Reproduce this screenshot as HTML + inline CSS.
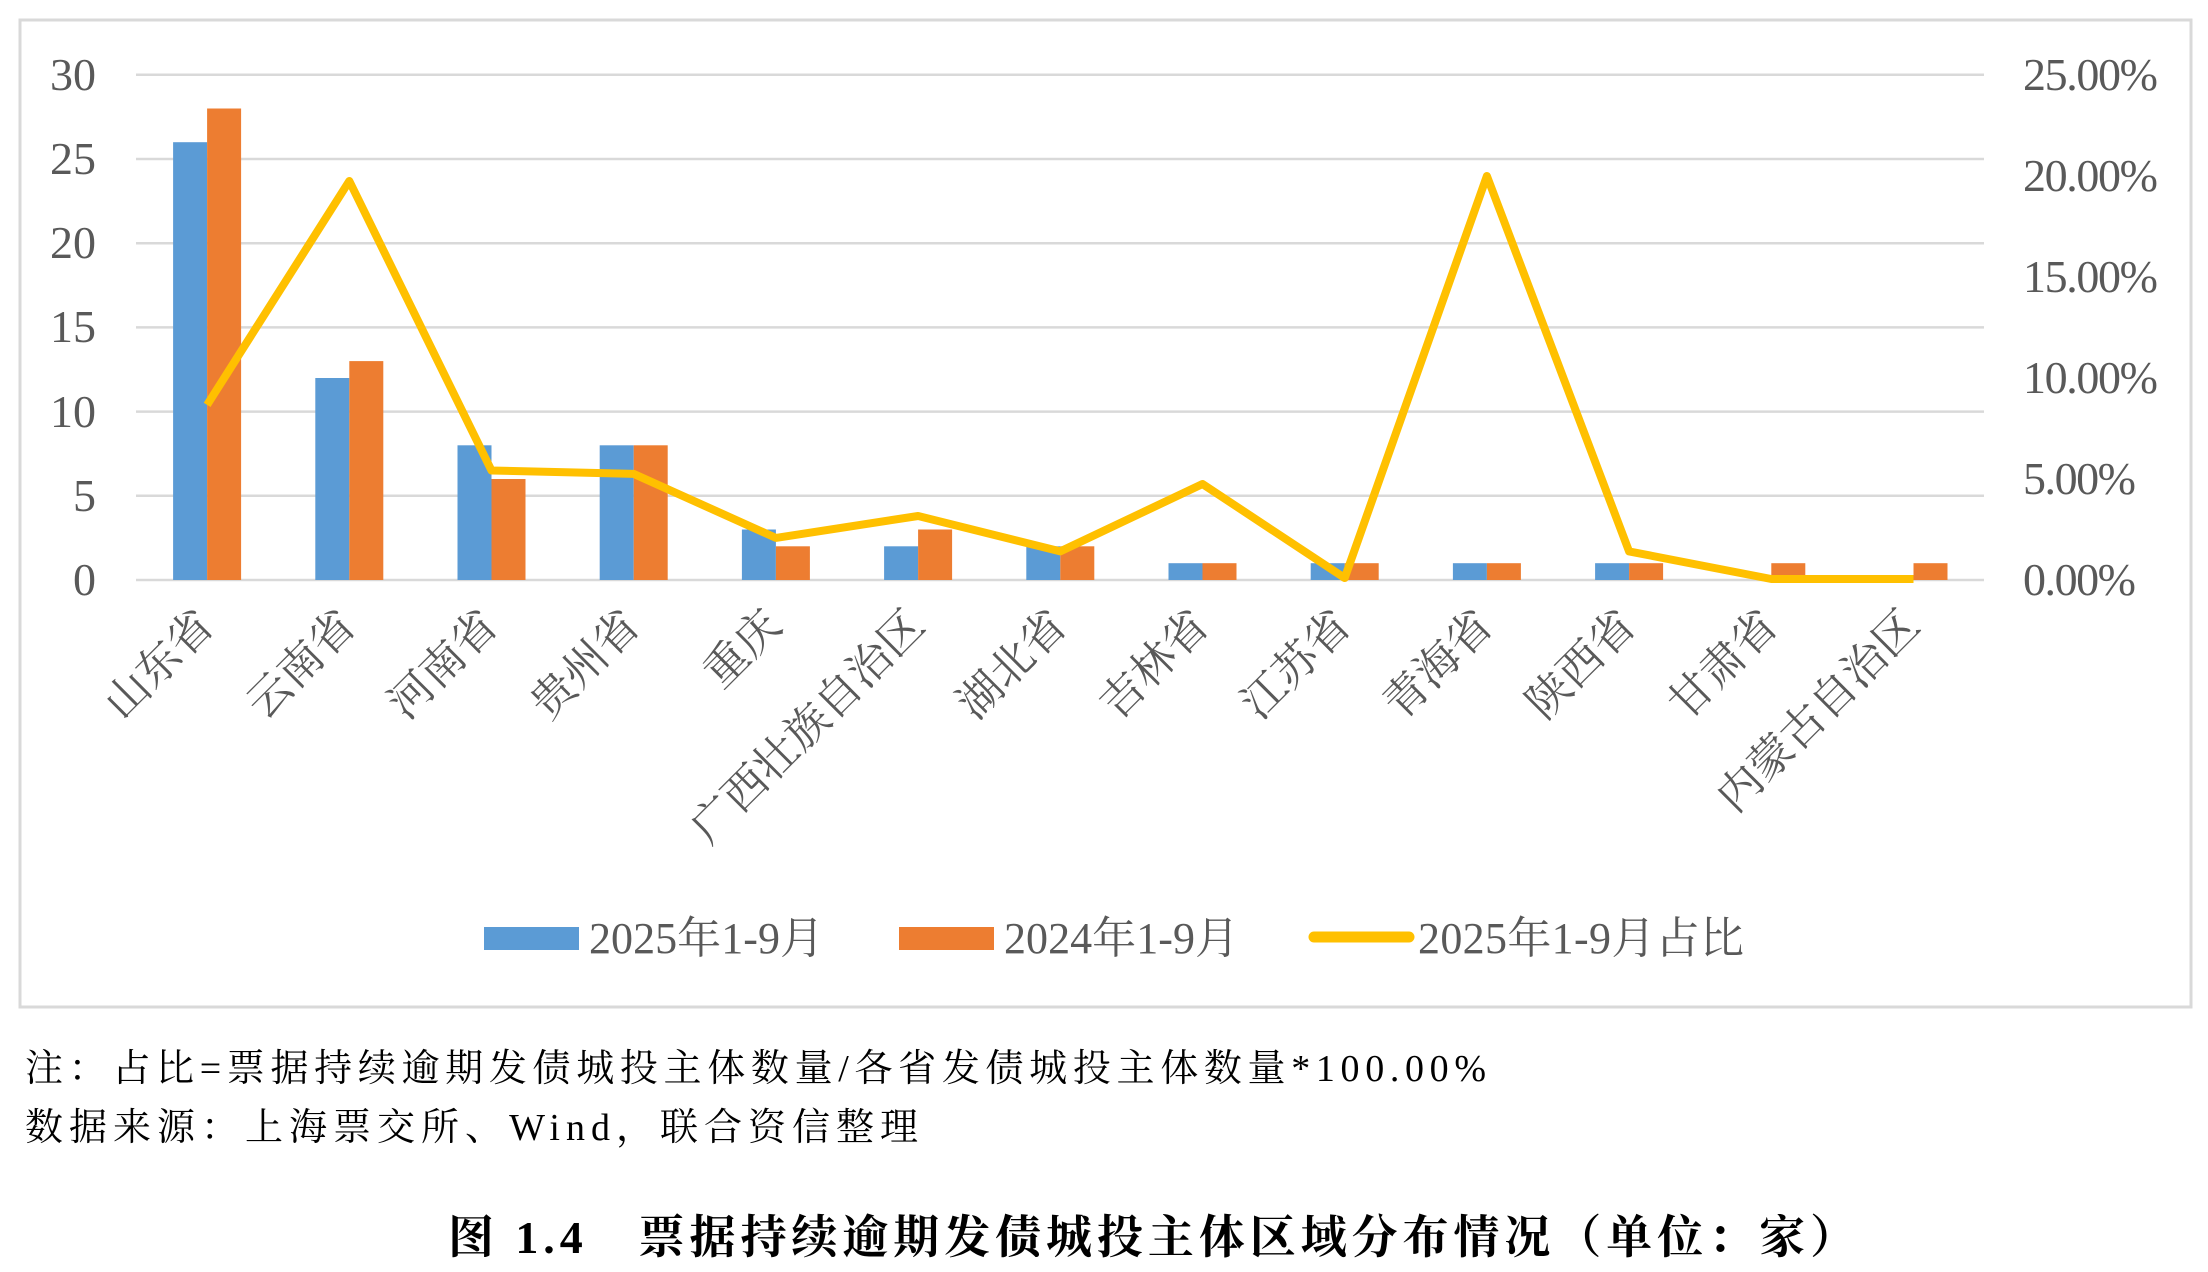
<!DOCTYPE html>
<html><head><meta charset="utf-8"><style>
html,body{margin:0;padding:0;background:#fff;}
svg{display:block;}
text{font-family:"Liberation Serif","Noto Serif CJK SC","Noto Sans CJK SC",serif;}
</style></head><body>
<svg width="2208" height="1272" viewBox="0 0 2208 1272" xmlns="http://www.w3.org/2000/svg">
<rect x="20" y="20" width="2171" height="987" fill="#fff" stroke="#d9d9d9" stroke-width="3"/>
<g stroke="#d9d9d9" stroke-width="2.5">
<line x1="136" x2="1984" y1="74.8" y2="74.8"/>
<line x1="136" x2="1984" y1="159" y2="159"/>
<line x1="136" x2="1984" y1="243.2" y2="243.2"/>
<line x1="136" x2="1984" y1="327.4" y2="327.4"/>
<line x1="136" x2="1984" y1="411.6" y2="411.6"/>
<line x1="136" x2="1984" y1="495.8" y2="495.8"/>
<line x1="136" x2="1984" y1="580" y2="580"/>
</g>
<g fill="#595959" font-size="46" text-anchor="end">
<text x="96" y="90">30</text><text x="96" y="174">25</text><text x="96" y="258">20</text>
<text x="96" y="342">15</text><text x="96" y="427">10</text><text x="96" y="511">5</text><text x="96" y="595">0</text>
</g>
<g fill="#595959" font-size="46">
<text x="2023" y="90" textLength="135">25.00%</text><text x="2023" y="191" textLength="135">20.00%</text>
<text x="2023" y="292" textLength="135">15.00%</text><text x="2023" y="393" textLength="135">10.00%</text>
<text x="2023" y="494" textLength="113">5.00%</text><text x="2023" y="595" textLength="113">0.00%</text>
</g>
<g fill="#5B9BD5">
<rect x="173.1" y="142.2" width="34" height="437.8"/>
<rect x="315.3" y="378" width="34" height="202"/>
<rect x="457.5" y="445.3" width="34" height="134.7"/>
<rect x="599.7" y="445.3" width="34" height="134.7"/>
<rect x="741.9" y="529.5" width="34" height="50.5"/>
<rect x="884.1" y="546.3" width="34" height="33.7"/>
<rect x="1026.3" y="546.3" width="34" height="33.7"/>
<rect x="1168.5" y="563.2" width="34" height="16.8"/>
<rect x="1310.7" y="563.2" width="34" height="16.8"/>
<rect x="1452.9" y="563.2" width="34" height="16.8"/>
<rect x="1595.1" y="563.2" width="34" height="16.8"/>
</g>
<g fill="#ED7D31">
<rect x="207.1" y="108.5" width="34" height="471.5"/>
<rect x="349.3" y="361.1" width="34" height="218.9"/>
<rect x="491.5" y="479" width="34" height="101"/>
<rect x="633.7" y="445.3" width="34" height="134.7"/>
<rect x="775.9" y="546.3" width="34" height="33.7"/>
<rect x="918.1" y="529.5" width="34" height="50.5"/>
<rect x="1060.3" y="546.3" width="34" height="33.7"/>
<rect x="1202.5" y="563.2" width="34" height="16.8"/>
<rect x="1344.7" y="563.2" width="34" height="16.8"/>
<rect x="1486.9" y="563.2" width="34" height="16.8"/>
<rect x="1629.1" y="563.2" width="34" height="16.8"/>
<rect x="1771.3" y="563.2" width="34" height="16.8"/>
<rect x="1913.5" y="563.2" width="34" height="16.8"/>
</g>
<polyline fill="none" stroke="#FFC000" stroke-width="8" stroke-linejoin="round"
points="207.1,404.9 349.3,181 491.5,470.5 633.7,473.9 775.9,537.9 918.1,516 1060.3,551.4 1202.5,484 1344.7,578 1486.9,176 1629.1,551.4 1771.3,579 1913.5,579"/>
<g fill="#595959" font-size="44" text-anchor="end">
<text transform="translate(216,628) rotate(-45)">山东省</text>
<text transform="translate(358,628) rotate(-45)">云南省</text>
<text transform="translate(500,628) rotate(-45)">河南省</text>
<text transform="translate(642,628) rotate(-45)">贵州省</text>
<text transform="translate(784,628) rotate(-45)">重庆</text>
<text transform="translate(927,628) rotate(-45)">广西壮族自治区</text>
<text transform="translate(1069,628) rotate(-45)">湖北省</text>
<text transform="translate(1211,628) rotate(-45)">吉林省</text>
<text transform="translate(1353,628) rotate(-45)">江苏省</text>
<text transform="translate(1495,628) rotate(-45)">青海省</text>
<text transform="translate(1638,628) rotate(-45)">陕西省</text>
<text transform="translate(1780,628) rotate(-45)">甘肃省</text>
<text transform="translate(1922,628) rotate(-45)">内蒙古自治区</text>
</g>
<rect x="484" y="927" width="95" height="23" fill="#5B9BD5"/>
<text x="589" y="953" font-size="44" fill="#595959" textLength="235">2025年1-9月</text>
<rect x="899" y="927" width="95" height="23" fill="#ED7D31"/>
<text x="1004" y="953" font-size="44" fill="#595959" textLength="235">2024年1-9月</text>
<line x1="1314" x2="1409" y1="937" y2="937" stroke="#FFC000" stroke-width="11" stroke-linecap="round"/>
<text x="1418" y="953" font-size="44" fill="#595959" textLength="326">2025年1-9月占比</text>
<text x="25" y="1081" font-size="38" fill="#000" textLength="1461" lengthAdjust="spacing">注：占比=票据持续逾期发债城投主体数量/各省发债城投主体数量*100.00%</text>
<text x="25" y="1140" font-size="38" fill="#000" textLength="893" lengthAdjust="spacing">数据来源：上海票交所、Wind，联合资信整理</text>
<text x="448" y="1253" font-size="46" font-weight="bold" fill="#000" textLength="1408" lengthAdjust="spacing">图 1.4　票据持续逾期发债城投主体区域分布情况（单位：家）</text>
</svg>
</body></html>
